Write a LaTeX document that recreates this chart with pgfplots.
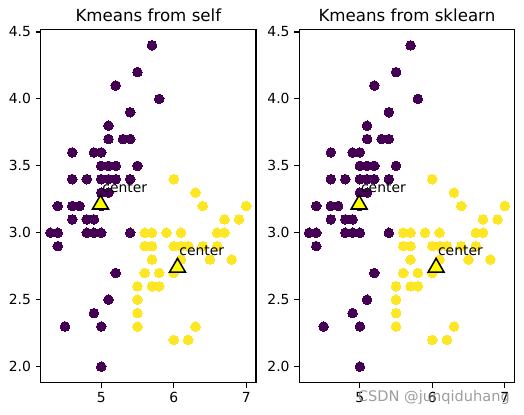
\documentclass[border=0pt]{standalone}
\usepackage{fontspec}
\setmainfont{DejaVu Sans}
\usepackage{pgfplots}
\usepackage{pgfplotstable}
\pgfplotsset{compat=1.18}

\newlength\px
\setlength\px{0.72pt}
\definecolor{vpurple}{HTML}{440154}
\definecolor{vyellow}{HTML}{FDE725}
\definecolor{cyel}{HTML}{FFFF00}

% cluster 0 (sepal length, sepal width)
\pgfplotstableread{
x y
5.7 4.4
5.5 4.2
5.2 4.1
5.8 4.0
5.4 3.9
5.1 3.8
5.1 3.7
5.3 3.7
5.4 3.7
4.6 3.6
4.9 3.6
5.0 3.6
5.0 3.5
5.1 3.5
5.2 3.5
5.5 3.5
4.6 3.4
4.8 3.4
5.0 3.4
5.1 3.4
5.2 3.4
5.4 3.4
5.0 3.3
5.1 3.3
4.4 3.2
4.6 3.2
4.7 3.2
5.0 3.2
4.6 3.1
4.8 3.1
4.9 3.1
4.3 3.0
4.4 3.0
4.8 3.0
4.9 3.0
5.0 3.0
5.4 3.0
4.4 2.9
5.2 2.7
5.1 2.5
4.9 2.4
4.5 2.3
5.0 2.3
5.0 2.0
}\clusterA

% cluster 1
\pgfplotstableread{
x y
6.0 3.4
6.3 3.3
6.4 3.2
7.0 3.2
6.7 3.1
6.9 3.1
5.6 3.0
5.7 3.0
5.9 3.0
6.1 3.0
6.6 3.0
6.7 3.0
5.6 2.9
5.7 2.9
6.0 2.9
6.1 2.9
6.2 2.9
6.4 2.9
6.6 2.9
5.7 2.8
6.1 2.8
6.5 2.8
6.8 2.8
5.6 2.7
5.8 2.7
6.0 2.7
5.5 2.6
5.7 2.6
5.8 2.6
5.5 2.5
5.5 2.4
5.5 2.3
6.3 2.3
6.0 2.2
6.2 2.2
}\clusterB

% cluster centres
\pgfplotstableread{
x y
4.99 3.229
6.052 2.757
}\centres

\pgfplotsset{
  kmstyle/.style={
    scale only axis, width=215.3\px, height=353.4\px,
    xmin=4.165, xmax=7.135, ymin=1.88, ymax=4.52,
    xtick={5,6,7}, ytick={2,2.5,3,3.5,4,4.5},
    yticklabel style={/pgf/number format/.cd, fixed, fixed zerofill, precision=1},
    /pgf/number format/assume math mode=true,
    tick align=outside, major tick length=3.5pt, tick pos=left,
    axis line style={line width=0.8pt},
    every tick/.style={line width=0.8pt, black},
    tick label style={font=\fontsize{10}{12}\selectfont},
    every axis title shift=0pt,
    title style={font=\fontsize{12}{14}\selectfont, at={(0.5,1)}, anchor=base, yshift=7.6\px},
    clip mode=individual,
  },
  ptsA/.style={only marks, mark=*, mark size=4.8\px, line width=0pt,
    mark options={draw=vpurple, fill=vpurple}},
  ptsB/.style={only marks, mark=*, mark size=4.8\px, line width=0pt,
    mark options={draw=vyellow, fill=vyellow}},
  ctr/.style={only marks, mark=triangle*, mark size=9.2\px,
    mark options={draw=black, fill=cyel, line width=1.1pt, yshift=-2.3\px}},
}

\newcommand{\centerlabels}{%
  \node[anchor=base west, inner sep=0pt, font=\fontsize{10}{12}\selectfont,
        xshift=1.7\px, yshift=10\px] at (axis cs:4.99,3.229) {center};
  \node[anchor=base west, inner sep=0pt, font=\fontsize{10}{12}\selectfont,
        xshift=1.7\px, yshift=10\px] at (axis cs:6.052,2.757) {center};
}

\begin{document}
\begin{tikzpicture}
\path[use as bounding box] (0,0) rectangle (524\px,415\px);

\begin{axis}[kmstyle, at={(40.7\px,32.3\px)}, anchor=south west,
  title={Kmeans from self}]
  \addplot[ptsA] table {\clusterA};
  \addplot[ptsB] table {\clusterB};
  \addplot[ctr] table {\centres};
  \centerlabels
\end{axis}

\begin{axis}[kmstyle, at={(299.3\px,32.3\px)}, anchor=south west,
  title={Kmeans from sklearn}]
  \addplot[ptsA] table {\clusterA};
  \addplot[ptsB] table {\clusterB};
  \addplot[ctr] table {\centres};
  \centerlabels
\end{axis}

\node[anchor=base west, inner sep=0pt, font=\fontsize{10.5}{12}\selectfont,
      text=black!45, opacity=0.85] at (357.7\px,13.3\px) {CSDN @junqiduhang};
\end{tikzpicture}
\end{document}
